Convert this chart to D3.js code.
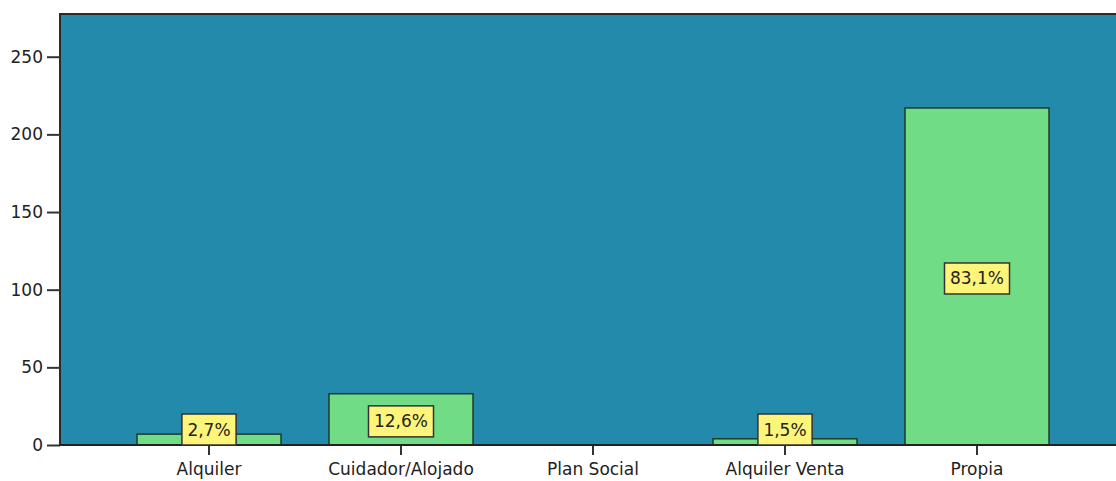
<!DOCTYPE html>
<html>
<head>
<meta charset="utf-8">
<script src="https://cdn.jsdelivr.net/npm/d3@7"></script>
<style>
  html, body { margin: 0; padding: 0; background: #fff; }
  svg { display: block; }
  text { font-family: "DejaVu Sans", sans-serif; fill: #222; }
</style>
</head>
<body>
<svg id="chart" width="1116" height="481"></svg>
<script>
const categories = ["Alquiler", "Cuidador/Alojado", "Plan Social", "Alquiler Venta", "Propia"];
const counts = [7, 33, 0, 4, 217];
const percentLabels = ["2,7%", "12,6%", null, "1,5%", "83,1%"];
const yTicks = [0, 50, 100, 150, 200, 250];

(function () {
const svg = d3.select("#chart");
const plotLeft = 60, plotTop = 14, plotBottom = 445, plotRight = 1116;

const x = d3.scaleBand()
  .domain(categories)
  .range([113, 1073])
  .paddingInner(0.25)
  .paddingOuter(0.125);

const y = d3.scaleLinear()
  .domain([0, 277.5])
  .range([plotBottom, plotTop]);

// plot background
svg.append("rect")
  .attr("x", plotLeft).attr("y", plotTop)
  .attr("width", plotRight - plotLeft + 2).attr("height", plotBottom - plotTop)
  .attr("fill", "#238aac");

// frame (left + top)
svg.append("path")
  .attr("d", `M${plotLeft},${plotBottom} V${plotTop} H${plotRight + 2}`)
  .attr("fill", "none")
  .attr("stroke", "#2a2a2a")
  .attr("stroke-width", 2);

const data = categories.map((c, i) => ({ c, v: counts[i], p: percentLabels[i] }));

// bars
svg.append("g").selectAll("rect")
  .data(data.filter(d => d.v > 0))
  .join("rect")
  .attr("x", d => x(d.c))
  .attr("y", d => y(d.v))
  .attr("width", x.bandwidth())
  .attr("height", d => y(0) - y(d.v))
  .attr("fill", "#70dd86")
  .attr("stroke", "#1f3a2a")
  .attr("stroke-width", 1.5);

// y axis
const yAxis = d3.axisLeft(y).tickValues(yTicks).tickSize(13).tickPadding(4).tickFormat(d3.format("d"));
const gy = svg.append("g").attr("transform", `translate(${plotLeft},0)`).call(yAxis);
gy.select(".domain").remove();
gy.selectAll(".tick line").attr("stroke", "#333").attr("stroke-width", 2);
gy.selectAll(".tick text").style("font-size", "17px").style("font-family", "DejaVu Sans, sans-serif").attr("fill", "#222");

// x axis
const xAxis = d3.axisBottom(x).tickSize(10).tickPadding(8);
const gx = svg.append("g").attr("transform", `translate(0,${plotBottom})`).call(xAxis);
gx.select(".domain").remove();
gx.selectAll(".tick line").attr("stroke", "#333").attr("stroke-width", 2);
gx.selectAll(".tick text").style("font-size", "17px").style("font-family", "DejaVu Sans, sans-serif").attr("fill", "#222");

// baseline
svg.append("line")
  .attr("x1", plotLeft - 1).attr("x2", plotRight)
  .attr("y1", plotBottom).attr("y2", plotBottom)
  .attr("stroke", "#222").attr("stroke-width", 2);

// percentage labels
const boxH = 31;
const lg = svg.append("g");
data.filter(d => d.p).forEach(d => {
  const cx = x(d.c) + x.bandwidth() / 2;
  let cy = (y(d.v) + y(0)) / 2 + 2;
  cy = Math.min(cy, plotBottom - boxH / 2);
  const g = lg.append("g");
  const t = g.append("text")
    .attr("x", cx).attr("y", cy)
    .attr("text-anchor", "middle")
    .attr("dominant-baseline", "central")
    .style("font-size", "17px")
    .text(d.p);
  const w = t.node().getComputedTextLength() + 11;
  g.insert("rect", "text")
    .attr("x", cx - w / 2).attr("y", cy - boxH / 2)
    .attr("width", w).attr("height", boxH)
    .attr("fill", "#fdf57a")
    .attr("stroke", "#333")
    .attr("stroke-width", 1.5);
});
})();
</script>
</body>
</html>
